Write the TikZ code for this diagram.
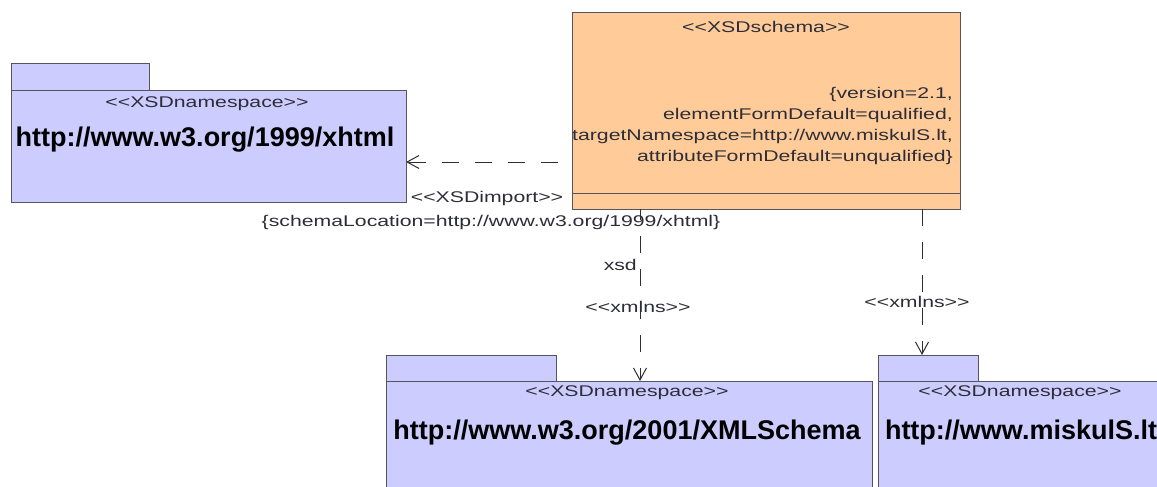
\documentclass[tikz,border=0pt]{standalone}
\usepackage{fontspec}
\setmainfont{Liberation Sans}[Ligatures=TeXOff]
\usepackage{graphicx}
\usetikzlibrary{arrows.meta}

\definecolor{pkgfill}{RGB}{204,204,255}
\definecolor{schemafill}{RGB}{255,204,153}
\definecolor{edge}{RGB}{85,85,95}
\definecolor{ink}{RGB}{45,45,55}

% regular UML text is set slightly widened
\newcommand\wtxt[1]{\scalebox{1.37}[1]{#1}}
\newcommand\stfont{\fontsize{15.5}{21}\selectfont}
\newcommand\namefont{\fontsize{27}{30}\selectfont\bfseries}

\tikzset{
  box/.style={draw=edge, line width=1pt, inner sep=0pt, outer sep=0pt},
  pkgbody/.style={box, fill=pkgfill},
  pkgtab/.style={box, fill=pkgfill},
  lbl/.style={inner sep=0pt, text=ink, font=\stfont},
  dep/.style={draw=ink, line width=1pt, dash pattern=on 17pt off 16pt,
    -{Straight Barb[length=12pt, width=13pt]}},
}

\begin{document}
\begin{tikzpicture}[x=1pt, y=-1pt]
\useasboundingbox (0,0) rectangle (1157,487);
\clip (0,0) rectangle (1157,487);

% namespace package: xhtml
\node[pkgtab, minimum width=138pt, minimum height=27pt] (xhtmltab) at (80,77.5) {};
\node[pkgbody, minimum width=395pt, minimum height=111pt] (xhtml) at (208.5,146.5) {};
\node[lbl] (xhtmlst) at (207,104) {\wtxt{<<XSDnamespace>>}};
\node[inner sep=0pt, font=\namefont] (xhtmlname) at (205,140) {http://www.w3.org/1999/xhtml};

% schema class
\node[box, fill=schemafill, minimum width=388pt, minimum height=196pt] (schema) at (766,111) {};
\draw[edge, line width=1pt] (schema.west |- 0,193) coordinate (divl) -- (schema.east |- 0,193) coordinate (divr);
\node[lbl] (schemast) at (766,27) {\wtxt{<<XSDschema>>}};
\node[lbl, anchor=north east, align=right] (schematag) at (953,87)
  {\wtxt{\{version=2.1,}\\ \wtxt{elementFormDefault=qualified,}\\
   \wtxt{targetNamespace=http://www.miskulS.lt,}\\ \wtxt{attributeFormDefault=unqualified\}}};

% namespace package: XMLSchema
\node[pkgtab, minimum width=170pt, minimum height=26pt] (xsdtab) at (471,368) {};
\node[pkgbody, minimum width=486pt, minimum height=119pt] (xsdpkg) at (629,440.5) {};
\node[lbl] (xsdst) at (627,393) {\wtxt{<<XSDnamespace>>}};
\node[inner sep=0pt, font=\namefont] (xsdname) at (627,433) {http://www.w3.org/2001/XMLSchema};

% namespace package: target
\node[pkgtab, minimum width=100pt, minimum height=26pt] (tnstab) at (928,368) {};
\node[pkgbody, minimum width=288pt, minimum height=119pt] (tnspkg) at (1022,440.5) {};
\node[lbl] (tnsst) at (1020,393) {\wtxt{<<XSDnamespace>>}};
\node[inner sep=0pt, font=\namefont] (tnsname) at (1021,433) {http://www.miskulS.lt};

% dependencies
\coordinate (impy) at (0,162);
\coordinate (midx) at (640,0);
\coordinate (rgtx) at (922,0);

\draw[dep, dash phase=19pt] (schema.west |- impy) -- (xhtml.east |- impy);
\draw[dep, dash phase=6pt] (schema.south -| midx) -- (xsdpkg.north -| midx);
\draw[dep, dash phase=0pt] (schema.south -| rgtx) -- (tnstab.north -| rgtx);

% dependency labels
\node[lbl] (implbl) at (487,198) {\wtxt{<<XSDimport>>}};
\node[lbl] (implocation) at (491,222) {\wtxt{\{schemaLocation=http://www.w3.org/1999/xhtml\}}};
\node[lbl, anchor=east] (xsdprefix) at (637,265) {\wtxt{xsd}};
\node[lbl] (midxmlns) at (638,307) {\wtxt{<<xmlns>>}};
\node[lbl] (rgtxmlns) at (917,302) {\wtxt{<<xmlns>>}};
\end{tikzpicture}
\end{document}
